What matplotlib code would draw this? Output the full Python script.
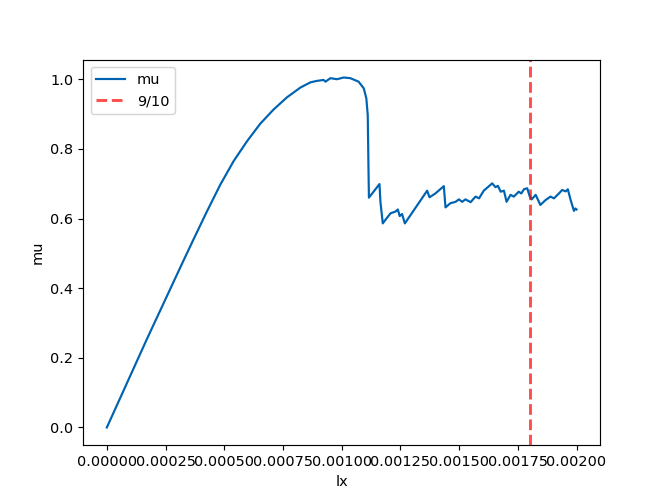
import numpy as np
import matplotlib
matplotlib.use("Agg")
import matplotlib.pyplot as plt

# values
lx = [0.0, 0.000170, 0.000320, 0.000369, 0.000426, 0.000483, 0.000540, 0.000597,
      0.000653, 0.000710, 0.000767, 0.000824, 0.000867, 0.000893, 0.000923, 0.000931,
      0.000952, 0.000980, 0.001009, 0.001037, 0.001072, 0.001094, 0.001105, 0.001111,
      0.001114, 0.001116, 0.001161, 0.001165, 0.001175, 0.001186, 0.001208, 0.001229,
      0.001239, 0.001247, 0.001257, 0.001269, 0.001364, 0.001374, 0.001399, 0.001435,
      0.001442, 0.001463, 0.001485, 0.001499, 0.001513, 0.001527, 0.001549, 0.001570,
      0.001585, 0.001605, 0.001641, 0.001655, 0.001665, 0.001677, 0.001691, 0.001702,
      0.001719, 0.001733, 0.001754, 0.001765, 0.001776, 0.001790, 0.001801, 0.001809,
      0.001826, 0.001846, 0.001868, 0.001889, 0.001904, 0.001925, 0.001939, 0.001954,
      0.001963, 0.001975, 0.001989, 0.001995, 0.002000]
mu = [0.0, 0.253, 0.470, 0.540, 0.620, 0.697, 0.765, 0.822,
      0.872, 0.913, 0.948, 0.976, 0.991, 0.995, 0.998, 0.993,
      1.003, 1.000, 1.005, 1.003, 0.993, 0.974, 0.945, 0.897,
      0.750, 0.660, 0.699, 0.648, 0.586, 0.596, 0.615, 0.620,
      0.626, 0.607, 0.613, 0.586, 0.680, 0.661, 0.672, 0.693,
      0.632, 0.644, 0.648, 0.655, 0.648, 0.655, 0.647, 0.663,
      0.658, 0.680, 0.701, 0.690, 0.694, 0.677, 0.680, 0.648,
      0.668, 0.663, 0.677, 0.672, 0.684, 0.687, 0.663, 0.655,
      0.668, 0.639, 0.653, 0.663, 0.658, 0.672, 0.682, 0.678,
      0.684, 0.653, 0.622, 0.629, 0.626]

frac_line = 0.9 * 0.002

fig, ax = plt.subplots(figsize=(6.4, 4.8), dpi=104.17)
ax.plot(lx, mu, color="#0063b1", lw=1.5, label="mu")
ax.axvline(frac_line, color="red", ls="--", lw=2, alpha=0.7, label="9/10")
ax.set_xlabel("lx")
ax.set_ylabel("mu")
ax.legend(loc="upper left")

plt.savefig("out.png", dpi=104.17)
